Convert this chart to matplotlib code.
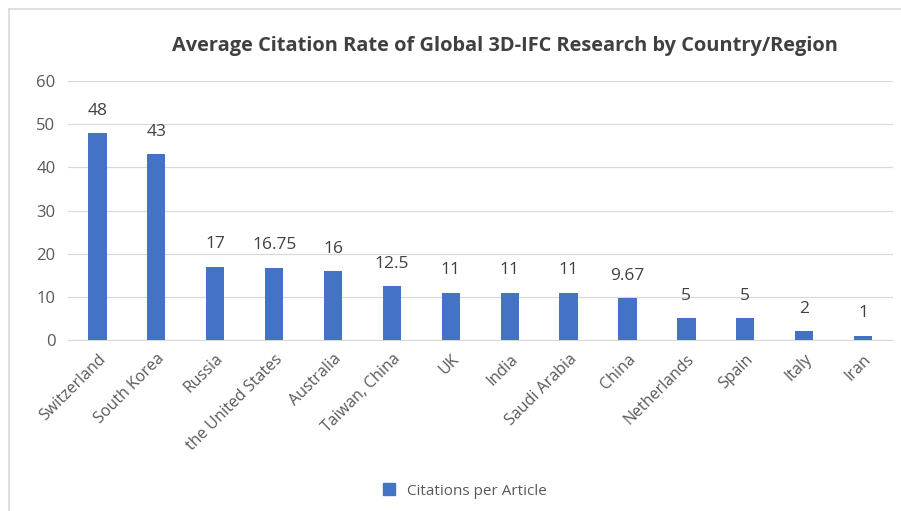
import matplotlib.pyplot as plt
from matplotlib.lines import Line2D
import numpy as np

plt.rcParams['font.family'] = ['Open Sans', 'DejaVu Sans']

countries = ['Switzerland', 'South Korea', 'Russia', 'the United States', 'Australia',
             'Taiwan, China', 'UK', 'India', 'Saudi Arabia', 'China', 'Netherlands',
             'Spain', 'Italy', 'Iran']
citations = [48, 43, 17, 16.75, 16, 12.5, 11, 11, 11, 9.67, 5, 5, 2, 1]
value_labels = ['48', '43', '17', '16.75', '16', '12.5', '11', '11', '11', '9.67',
                '5', '5', '2', '1']

W, H = 901, 511
fig = plt.figure(figsize=(W / 100, H / 100), dpi=100)
ax = fig.add_axes([68 / W, 1 - 340 / H, (892.5 - 68) / W, (340 - 81) / H])

x = np.arange(len(countries))
ax.bar(x, citations, width=0.31, color='#4472C4', zorder=3, label='Citations per Article')

for xi, v, lab in zip(x, citations, value_labels):
    ax.text(xi, v + 3.3, lab, ha='center', va='bottom', fontsize=12.5, color='#404040')

ax.set_xlim(-0.5, len(countries) - 0.5)
ax.set_ylim(0, 60)
ax.set_yticks(range(0, 61, 10))
ax.tick_params(axis='y', length=0, labelsize=12, labelcolor='#595959', pad=9)
ax.tick_params(axis='x', length=0, labelsize=11.5, labelcolor='#595959', pad=8)
ax.set_xticks(x)
ax.set_xticklabels(countries, rotation=45, ha='right', rotation_mode='anchor')

ax.grid(axis='y', color='#d9d9d9', linewidth=0.9, zorder=0)
for s in ['top', 'right', 'left']:
    ax.spines[s].set_visible(False)
ax.spines['bottom'].set_color('#d9d9d9')

fig.text(505 / W, 1 - 46 / H,
         'Average Citation Rate of Global 3D-IFC Research by Country/Region',
         ha='center', va='center', fontsize=14.4, fontweight='bold', color='#404040')

handles = [Line2D([0], [0], marker='s', linestyle='none', markersize=8,
                  markerfacecolor='#4472C4', markeredgecolor='#4472C4')]
fig.legend(handles, ['Citations per Article'], loc='center',
           bbox_to_anchor=(460 / W, 1 - 491 / H), frameon=False,
           fontsize=11, labelcolor='#595959', handletextpad=0.2)

# chart frame (top and left edges visible)
fig.add_artist(Line2D([8.5 / W, 8.5 / W], [0, 1 - 9 / H], color='#d9d9d9', linewidth=1.2))
fig.add_artist(Line2D([8.5 / W, 1], [1 - 9 / H, 1 - 9 / H], color='#d9d9d9', linewidth=1.2))

fig.savefig('out.png', dpi=100, facecolor='white')
